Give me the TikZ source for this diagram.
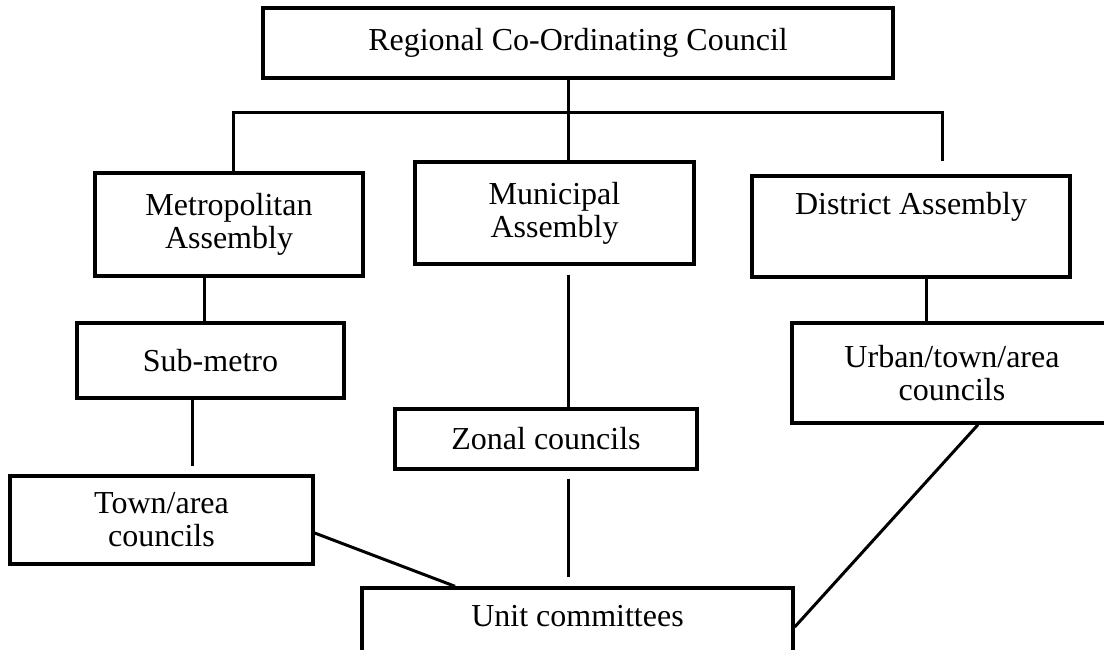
\documentclass[tikz,border=0pt]{standalone}
\usepackage{fontspec}
\setmainfont{Liberation Serif}
\usetikzlibrary{positioning,calc}

\begin{document}
\begin{tikzpicture}[x=1pt,y=-1pt,
    orgbox/.style={rectangle,draw,line width=3.4pt,align=center,inner sep=0pt,font=\fontsize{32}{33}\selectfont},
    link/.style={line width=3pt}]

\useasboundingbox (0,0) rectangle (1104,649);

\node[orgbox,minimum width=630pt,minimum height=70pt] (reg) at (578,43) {Regional Co-Ordinating Council};

\node[orgbox,minimum width=268pt,minimum height=103pt] (metro) at (229,224.5) {Metropolitan\\Assembly};
\node[orgbox,minimum width=279pt,minimum height=102pt] (muni) at (554.5,213) {Municipal\\Assembly};
\node[orgbox,minimum width=318pt,minimum height=101pt] (dist) at (911,226.5) {District Assembly\\[14pt]\mbox{}};

\node[orgbox,minimum width=267pt,minimum height=75pt] (sub) at (210.5,360.5) {Sub-metro};
\node[orgbox,minimum width=320pt,minimum height=100pt] (urban) at (952,373) {Urban/town/area\\councils};
\node[orgbox,minimum width=302pt,minimum height=60pt] (zonal) at (546,439) {Zonal councils};
\node[orgbox,minimum width=303pt,minimum height=88pt] (town) at (161.5,520) {Town/area\\councils};

\node[orgbox,minimum width=431pt,minimum height=88pt] (unit) at (577.5,632) {Unit committees\\ \mbox{}};

% top bar
\coordinate (jl) at (233,112);
\coordinate (jm) at (568,112);
\coordinate (jr) at (942,112);

\draw[link] (jm |- reg.south) -- (jm);
\draw[link,shorten >=13pt] (jl |- metro.north) -- (jl) -- (jr) -- (jr |- dist.north);
\draw[link] (jm) -- (jm |- muni.north);

% branches
\draw[link] ([xshift=-25pt]metro.south) -- ([xshift=-25pt]metro.south |- sub.north);
\draw[link,shorten >=8pt] ([xshift=-18.5pt]sub.south) -- ([xshift=-18.5pt]sub.south |- town.north);
\draw[link,shorten <=9pt] ([xshift=13.5pt]muni.south) -- ([xshift=13.5pt]muni.south |- zonal.north);
\draw[link,shorten <=8pt,shorten >=9pt] ([xshift=22pt]zonal.south) -- ([xshift=22pt]zonal.south |- unit.north);
\draw[link] ([xshift=15pt]dist.south) -- ([xshift=15pt]dist.south |- urban.north);

\draw[link] ([yshift=-13pt]town.east) -- ([xshift=-122.5pt]unit.north);
\draw[link] ([xshift=26pt]urban.south) -- ([yshift=5pt]unit.east);

\end{tikzpicture}
\end{document}
